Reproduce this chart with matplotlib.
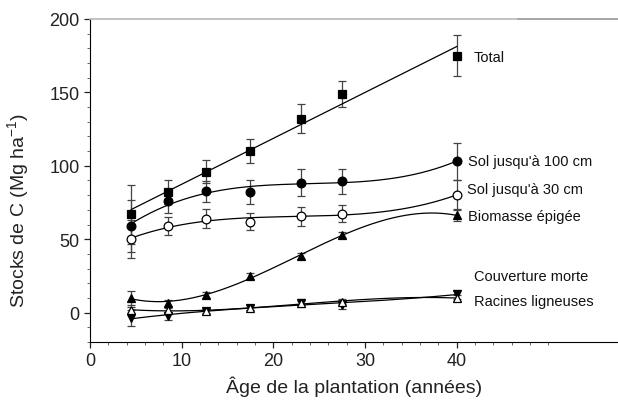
import numpy as np
import matplotlib.pyplot as plt
from matplotlib.ticker import MultipleLocator, FixedLocator

plt.rcParams['font.family'] = ['Liberation Sans', 'DejaVu Sans']
plt.rcParams['mathtext.fontset'] = 'custom'
plt.rcParams['mathtext.rm'] = 'Liberation Sans'

# âge des plantations (années)
ages = [4.5, 8.5, 12.7, 17.5, 23, 27.5, 40]

total = [67, 82, 96, 110, 132, 149, 175]
total_err = [20, 8, 8, 8, 10, 9, 14]

sol100 = [59, 76, 82.5, 82, 88.5, 89.5, 103]
sol100_err = [18, 8, 7, 8, 9, 8.5, 12.5]

sol30 = [50, 59, 64, 62, 65.5, 67.5, 80]
sol30_err = [13, 6, 6.5, 6, 6.5, 6, 10]

biomasse = [10, 6.6, 12.3, 24.8, 38.8, 52.6, 66.3]
biomasse_err = [5, 2, 2, 2, 2, 2, 4]

couverture = [-3.5, -2.5, 1, 3.5, 6.5, 5.5, 12.5]
couverture_err = [5.5, 2.5, 2, 2, 2.5, 3, 3]

racines = [2, 1.5, 1, 3.5, 6.5, 7.5, 10]
racines_err = [2, 2, 1.5, 1.5, 1.5, 1.5, 2]

series = [
    ('Total', total, total_err, 's', 'black', 1),
    ("Sol jusqu'à 100 cm", sol100, sol100_err, 'o', 'black', 3),
    ("Sol jusqu'à 30 cm", sol30, sol30_err, 'o', 'white', 3),
    ('Biomasse épigée', biomasse, biomasse_err, '^', 'black', 3),
    ('Couverture morte', couverture, couverture_err, 'v', 'black', 3),
    ('Racines ligneuses', racines, racines_err, '^', 'white', 3),
]

# position des étiquettes (x, y en unités des données)
labels_pos = [(41.8, 174), (41.2, 103), (41.1, 84), (41.2, 65.6), (41.9, 24.8), (41.9, 7.7)]

fig = plt.figure(figsize=(6.18, 4.06), dpi=100)
ax = fig.add_axes([0.1456, 0.155, 0.8544, 0.796])

xs = np.linspace(min(ages), max(ages), 200)
for (nom, y, err, m, fc, deg), (lx, ly) in zip(series, labels_pos):
    ax.errorbar(ages, y, yerr=err, fmt='none', ecolor='#444444', elinewidth=0.9,
                capsize=3, capthick=0.9, zorder=2)
    coef = np.polyfit(ages, y, deg)
    ax.plot(xs, np.polyval(coef, xs), color='black', lw=0.9, zorder=3)
    ax.plot(ages, y, ls='none', marker=m, ms=6.3, mfc=fc, mec='black', mew=0.9, zorder=4)
    ax.text(lx, ly, nom, fontsize=10.5, va='center', ha='left', color='#111111')

ax.set_xlim(0, 57.6)
ax.set_ylim(-20, 200)
ax.xaxis.set_major_locator(FixedLocator([0, 10, 20, 30, 40]))
ax.xaxis.set_minor_locator(FixedLocator([2, 4, 6, 8, 12, 14, 16, 18, 22, 24, 26, 28,
                                         32, 34, 36, 38, 42, 44, 46, 48, 50]))
ax.yaxis.set_major_locator(FixedLocator([0, 50, 100, 150, 200]))
ax.yaxis.set_minor_locator(MultipleLocator(10))
ax.tick_params(which='major', direction='out', length=4, width=0.9, labelsize=13, colors='#222222')
ax.tick_params(which='minor', direction='out', length=2, width=0.7, color='#666666')

ax.spines['right'].set_visible(False)
ax.spines['top'].set_color('#b8b8b8')
ax.spines['top'].set_linewidth(1.2)
ax.axhline(200, xmin=0.81, xmax=1.0, color='#333333', lw=1.2, clip_on=False)

ax.set_xlabel('Âge de la plantation (années)', fontsize=14, color='#222222')
ax.set_ylabel('Stocks de C (Mg ha$^{\\mathrm{-1}}$)', fontsize=14, color='#222222')
ax.yaxis.set_label_coords(-0.11, 0.41)

plt.savefig('out.png', dpi=100)
